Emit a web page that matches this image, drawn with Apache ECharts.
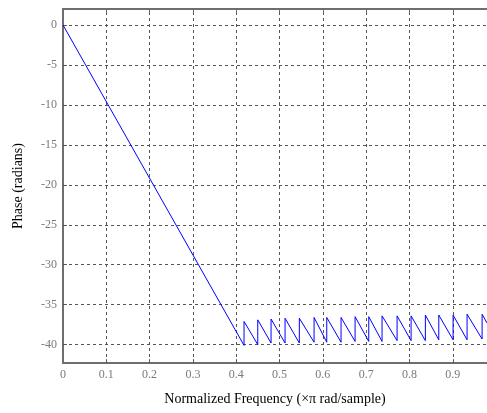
<!DOCTYPE html>
<html>
<head>
<meta charset="utf-8">
<script src="https://cdn.jsdelivr.net/npm/echarts@6/dist/echarts.min.js"></script>
<style>html,body{margin:0;padding:0;background:#fff;}#c{width:487px;height:413px;}</style>
</head>
<body>
<div id="c"></div>
<script>
// Tick labels
var xTicks = [0, 0.1, 0.2, 0.3, 0.4, 0.5, 0.6, 0.7, 0.8, 0.9];
var yTicks = [0, -5, -10, -15, -20, -25, -30, -35, -40];
// Passband start point
var startPoint = [0, 0];
// Stopband: x positions of the +pi jumps, phase just before (bottom) and after (top)
var jumpX = [0.418, 0.4497, 0.4804, 0.5127, 0.5457, 0.5797, 0.609, 0.642, 0.6744, 0.706, 0.7367, 0.7714, 0.8037, 0.8367, 0.8677, 0.9007, 0.933, 0.9677];
var bottoms = [-40.1, -40.0, -39.8, -39.8, -39.8, -39.7, -39.7, -39.7, -39.6, -39.6, -39.6, -39.5, -39.5, -39.5, -39.4, -39.4, -39.4, -39.3];
var tops = [-37.1, -36.9, -36.8, -36.7, -36.7, -36.6, -36.6, -36.6, -36.5, -36.5, -36.4, -36.4, -36.4, -36.3, -36.3, -36.3, -36.2, -36.2];
var endPoint = [0.979, -37.3];

var data = [startPoint];
for (var i = 0; i < jumpX.length; i++) {
  data.push([jumpX[i], bottoms[i]]);
  data.push([jumpX[i], tops[i]]);
}
data.push(endPoint);

var gridMarks = [];
xTicks.forEach(function (v) { if (v > 0) gridMarks.push({ xAxis: v }); });
yTicks.forEach(function (v) { gridMarks.push({ yAxis: v }); });

var font = 'Liberation Serif, Times New Roman, serif';
var chart = echarts.init(document.getElementById('c'), null, { renderer: 'canvas' });
chart.setOption({
  animation: false,
  backgroundColor: '#ffffff',
  grid: { left: 63, top: 9, right: 0, bottom: 50 },
  xAxis: [{
    type: 'value', min: 0, max: 0.979, position: 'bottom',
    name: 'Normalized Frequency (\u00d7\u03c0 rad/sample)',
    nameLocation: 'middle', nameGap: 29,
    nameTextStyle: { color: '#000', fontFamily: font, fontSize: 14 },
    axisLine: { show: true, onZero: false, lineStyle: { color: '#6e6e6e', width: 2 } },
    axisTick: { show: true, inside: true, length: 4, customValues: xTicks, lineStyle: { color: '#6e6e6e' } },
    axisLabel: { customValues: xTicks, color: '#7a7a7a', fontFamily: font, fontSize: 12, margin: 6,
      formatter: function (v) { return String(Math.round(v * 10) / 10); } },
    splitLine: { show: false }
  }, {
    type: 'value', min: 0, max: 0.979, position: 'top',
    axisLine: { show: true, onZero: false, lineStyle: { color: '#6e6e6e', width: 2 } },
    axisTick: { show: true, inside: true, length: 4, customValues: xTicks, lineStyle: { color: '#6e6e6e' } },
    axisLabel: { show: false },
    splitLine: { show: false }
  }],
  yAxis: {
    type: 'value', min: -42.3, max: 2,
    name: 'Phase (radians)',
    nameLocation: 'middle', nameGap: 38, nameRotate: 90,
    nameTextStyle: { color: '#000', fontFamily: font, fontSize: 14 },
    axisLine: { show: true, onZero: false, lineStyle: { color: '#6e6e6e', width: 2 } },
    axisTick: { show: true, inside: true, length: 4, customValues: yTicks, lineStyle: { color: '#6e6e6e' } },
    axisLabel: { customValues: yTicks, color: '#7a7a7a', fontFamily: font, fontSize: 12, margin: 6 },
    splitLine: { show: false }
  },
  series: [{
    type: 'line',
    data: data,
    showSymbol: false,
    lineStyle: { color: '#0000ff', width: 1 },
    z: 5,
    markLine: {
      silent: true, symbol: 'none', animation: false,
      label: { show: false },
      lineStyle: { color: '#555', type: [3, 3], width: 1 },
      emphasis: { disabled: true },
      data: gridMarks
    }
  }]
});
</script>
</body>
</html>
